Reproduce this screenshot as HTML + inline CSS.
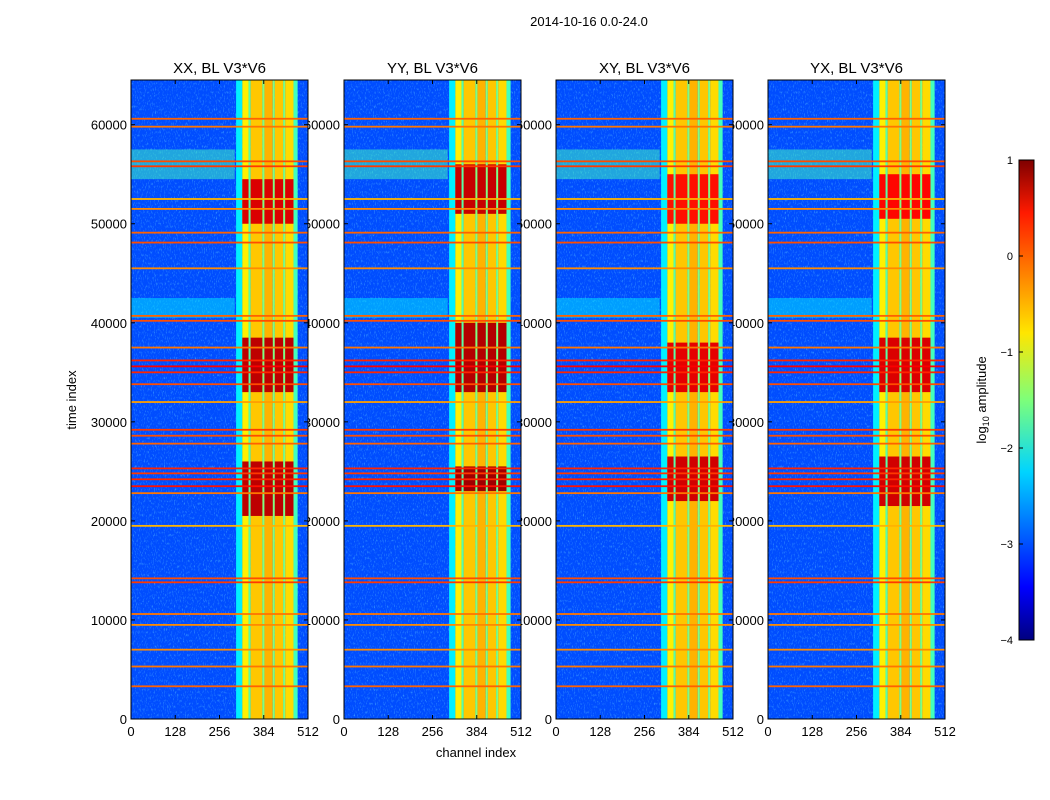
<!DOCTYPE html>
<html><head><meta charset="utf-8">
<style>
html,body{margin:0;padding:0;background:#fff;}
svg{display:block;font-family:"Liberation Sans",sans-serif;}
</style></head>
<body>
<svg id="fig" width="1050" height="800" viewBox="0 0 1050 800" xmlns="http://www.w3.org/2000/svg">
<defs>
<filter id="speckle" x="0" y="0" width="100%" height="100%">
<feTurbulence type="fractalNoise" baseFrequency="0.9 0.35" numOctaves="2" seed="3" result="n"/>
<feColorMatrix type="matrix" values="0 0 0 0 0.2  0 0 0 0 0.9  0 0 0 0 1  0 0 0 2.2 -1.2"/>
</filter>
<linearGradient id="cbgrad" x1="0" y1="1" x2="0" y2="0">
<stop offset="0" stop-color="#00007f"/><stop offset="0.11" stop-color="#0000ff"/>
<stop offset="0.35" stop-color="#00d4ff"/><stop offset="0.5" stop-color="#7dff7a"/>
<stop offset="0.64" stop-color="#ffe600"/><stop offset="0.89" stop-color="#ff1a00"/>
<stop offset="1" stop-color="#7f0000"/>
</linearGradient>
</defs>
<text x="589" y="26" font-size="13" text-anchor="middle">2014-10-16 0.0-24.0</text>
<g id="labels"></g>
<g id="panels"></g>
<text transform="translate(76,400) rotate(-90)" font-size="13" text-anchor="middle">time index</text>
<text x="476" y="757" font-size="13" text-anchor="middle">channel index</text>
<g id="colorbar"></g>
</svg>
<script>
const titles=["XX, BL V3*V6","YY, BL V3*V6","XY, BL V3*V6","YX, BL V3*V6"];
const panelLeft=[131,344,556,768];
const yTicks=[0,10000,20000,30000,40000,50000,60000];
const xTicks=[0,128,256,384,512];
const cbTicks=[1,0,-1,-2,-3,-4];
const baseLevel=-3.0;
const stripStart=[304,322,340,346,380,386,410,416,440,446,470];
const stripEnd  =[322,340,346,380,386,410,416,440,446,470,482];
const stripVal  =[-2.2,-0.8,-1.7,-0.6,-1.5,-0.5,-1.5,-0.6,-1.5,-0.7,-1.8];
const lineTimes=[3300,5300,7000,9500,10600,13800,14200,19500,22800,23500,24200,24800,25300,27800,28600,29200,32000,33800,35000,35600,36200,37500,40200,40700,45500,48100,49100,51500,52500,55800,56300,59800,60600];
const lineVals =[-0.1,-0.2,-0.3,-0.3,-0.2,0.1,0.0,-0.5,-0.2,0.3,0.2,0.1,0.2,-0.1,0.0,0.1,-0.4,0.0,0.2,0.4,0.2,-0.2,0.0,-0.1,-0.3,0.0,-0.1,-0.3,-0.5,0.1,0.0,-0.2,-0.1];
const wideStart=[40500,54500];
const wideEnd  =[42500,57500];
const wideVal  =[-2.2,-1.8];
const hotStart=[[20500,33000,50000],[23000,33000,51000],[22000,33000,50000],[21500,33000,50500]];
const hotEnd  =[[26000,38500,54500],[25500,40000,56000],[26500,38000,55000],[26500,38500,55000]];
const hotVal  =[[0.7,0.7,0.55],[0.85,0.75,0.65],[0.6,0.5,0.3],[0.6,0.55,0.35]];

const vmin=-4,vmax=1,yTop=80,yBot=719,pw=177,tmax=64512;
function jet(v){let t=(v-vmin)/(vmax-vmin);t=Math.max(0,Math.min(1,t));
 const c=x=>Math.round(255*Math.max(0,Math.min(1,x)));
 const r=c(1.5-Math.abs(4*t-3)),g=c(1.5-Math.abs(4*t-2)),b=c(1.5-Math.abs(4*t-1));
 return `rgb(${r},${g},${b})`;}
const ys=t=>yBot-(t/tmax)*(yBot-yTop);
const NS="http://www.w3.org/2000/svg";
function el(tag,attrs,parent){const e=document.createElementNS(NS,tag);for(const k in attrs)e.setAttribute(k,attrs[k]);parent.appendChild(e);return e;}
const labelsG=document.getElementById('labels'),panelsG=document.getElementById('panels');
panelLeft.forEach((x0,p)=>{
 const xs=c=>x0+c/512*pw;
 yTicks.forEach(t=>{const tx=el('text',{x:x0-4,y:ys(t)+5,'font-size':13,'text-anchor':'end'},labelsG);
  
  tx.textContent=t;});
 xTicks.forEach(c=>{const tx=el('text',{x:xs(c),y:736,'font-size':13,'text-anchor':'middle'},labelsG);
  
  tx.textContent=c;});
 const g=el('g',{},panelsG);
 
 
 el('rect',{x:x0,y:yTop,width:pw,height:yBot-yTop,fill:jet(baseLevel)},g);
 el('rect',{x:x0,y:yTop,width:pw,height:yBot-yTop,filter:'url(#speckle)',opacity:0.6},g);
 wideStart.forEach((s,i)=>{const r=el('rect',{x:x0,y:ys(wideEnd[i]),width:xs(300)-x0,height:ys(s)-ys(wideEnd[i]),fill:jet(wideVal[i]),opacity:0.5},g);
  
  });
 stripStart.forEach((s,i)=>{const r=el('rect',{x:xs(s),y:yTop,width:xs(stripEnd[i])-xs(s),height:yBot-yTop,fill:jet(stripVal[i])},g);
  
  });
 hotStart[p].forEach((s,h)=>{stripStart.forEach((cs,i)=>{if(stripVal[i]>-1){
  const r=el('rect',{x:xs(cs),y:ys(hotEnd[p][h]),width:xs(stripEnd[i])-xs(cs),height:ys(s)-ys(hotEnd[p][h]),fill:jet(hotVal[p][h])},g);
  
  }});});
 lineTimes.forEach((t,i)=>{const r=el('rect',{x:x0,y:ys(t)-0.9,width:pw,height:1.8,fill:jet(lineVals[i])},g);
  
  });
 el('rect',{x:x0,y:yTop,width:pw,height:yBot-yTop,fill:'none',stroke:'#000','stroke-width':1},g);
 yTicks.forEach(t=>{el('line',{x1:x0,x2:x0+4,y1:ys(t),y2:ys(t),stroke:'#000'},g);el('line',{x1:x0+pw,x2:x0+pw-4,y1:ys(t),y2:ys(t),stroke:'#000'},g);});
 xTicks.forEach(c=>{el('line',{x1:xs(c),x2:xs(c),y1:yBot,y2:yBot-4,stroke:'#000'},g);el('line',{x1:xs(c),x2:xs(c),y1:yTop,y2:yTop+4,stroke:'#000'},g);});
 const tt=el('text',{x:x0+pw/2,y:73,'font-size':15,'text-anchor':'middle'},g);
 
 tt.textContent=titles[p];
});
const cb=document.getElementById('colorbar');
const cbTop=160,cbBot=640,cbX=1019,cbW=15;
el('rect',{x:cbX,y:cbTop,width:cbW,height:cbBot-cbTop,fill:'url(#cbgrad)',stroke:'#000'},cb);
cbTicks.forEach(v=>{const y=cbBot-(v-vmin)/(vmax-vmin)*(cbBot-cbTop);
 el('line',{x1:cbX,x2:cbX+4,y1:y,y2:y,stroke:'#000'},cb);
 const tx=el('text',{x:1013,y:y+4,'font-size':11,'text-anchor':'end'},cb);
 
 tx.textContent=v<0?'\u2212'+(-v):v;});
const cl=el('text',{transform:'translate(986,400) rotate(-90)','font-size':13,'text-anchor':'middle'},cb);


cl.innerHTML='log<tspan font-size="9" dy="3">10</tspan><tspan dy="-3"> amplitude</tspan>';
</script>
</body></html>
